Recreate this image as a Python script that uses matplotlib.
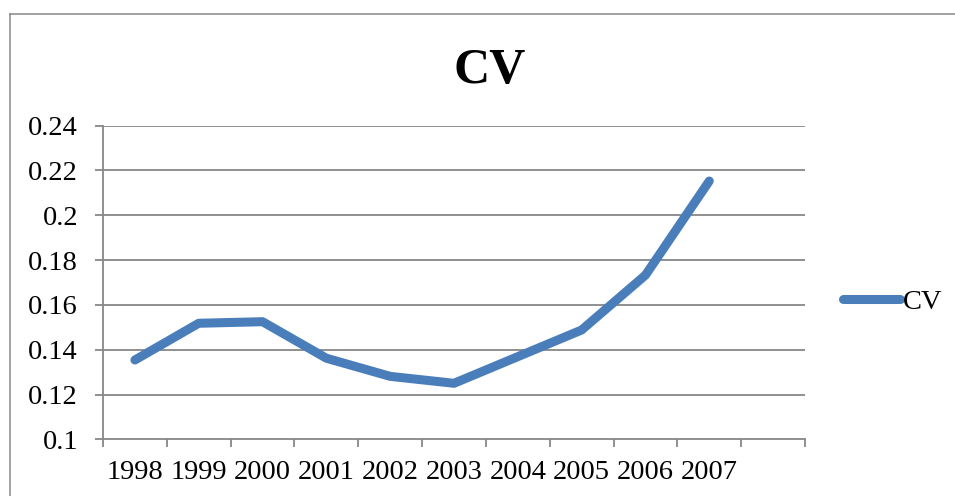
import matplotlib
matplotlib.use("Agg")
import matplotlib.pyplot as plt
from matplotlib.lines import Line2D
import numpy as np

years = ["1998", "1999", "2000", "2001", "2002", "2003", "2004", "2005", "2006", "2007"]
cv = [0.1354, 0.1518, 0.1525, 0.1362, 0.1281, 0.1250, 0.1369, 0.1488, 0.1733, 0.2153]
y_ticks = [0.1, 0.12, 0.14, 0.16, 0.18, 0.2, 0.22, 0.24]
y_labels = ["0.1", "0.12", "0.14", "0.16", "0.18", "0.2", "0.22", "0.24"]
series_name = "CV"
title = "CV"

W, H = 955, 496
fig = plt.figure(figsize=(W / 100, H / 100), dpi=100)
plt.rcParams['font.family'] = ['Liberation Serif', 'DejaVu Serif']

gray = "#878787"
blue = "#4A7EBB"
fs = 20.5

left, right, top, bottom = 103, 805, 125.7, 439.3
ax = fig.add_axes([left / W, 1 - bottom / H, (right - left) / W, (bottom - top) / H])

x = np.arange(len(years))
ax.plot(x, cv, color=blue, lw=6.5, solid_capstyle='round', solid_joinstyle='round',
        label=series_name, zorder=3)

n_slots = len(years) + 1
ax.set_xlim(-0.5, n_slots - 0.5)
ax.set_ylim(y_ticks[0], y_ticks[-1])

ax.set_yticks(y_ticks)
ax.set_yticklabels(y_labels)
for yv in y_ticks[1:]:
    ax.axhline(yv, color=gray, lw=1.3, zorder=1)

ax.set_xticks(np.arange(n_slots + 1) - 0.5)
ax.set_xticklabels([])
ax.set_xticks(x, minor=True)
ax.set_xticklabels(years, minor=True)

ax.tick_params(axis='x', which='major', direction='out', length=6, width=1.3, color=gray)
ax.tick_params(axis='x', which='minor', length=0, pad=15, labelsize=fs)
ax.tick_params(axis='y', direction='out', length=6, width=1.3, color=gray, pad=12, labelsize=fs)

for s in ['top', 'right']:
    ax.spines[s].set_visible(False)
for s in ['left', 'bottom']:
    ax.spines[s].set_color(gray)
    ax.spines[s].set_linewidth(1.3)

fig.text(489.5 / W, 1 - 83 / H, title, ha='center', va='baseline',
         fontsize=36, fontweight='bold')

leg = fig.legend(handles=[Line2D([0], [0], color=blue, lw=6.5, solid_capstyle='round')],
                 labels=[series_name], loc='center left',
                 bbox_to_anchor=(843 / W, 1 - 302 / H), frameon=False,
                 borderpad=0, borderaxespad=0, handlelength=2.0, handletextpad=0.1,
                 fontsize=fs)

# chart frame
fig.add_artist(Line2D([9.5 / W, 9.5 / W], [0, 1 - 14 / H], color=gray, lw=1.1,
                      transform=fig.transFigure))
fig.add_artist(Line2D([9.5 / W, 1], [1 - 14 / H, 1 - 14 / H], color=gray, lw=1.1,
                      transform=fig.transFigure))

fig.savefig("out.png", dpi=100)
